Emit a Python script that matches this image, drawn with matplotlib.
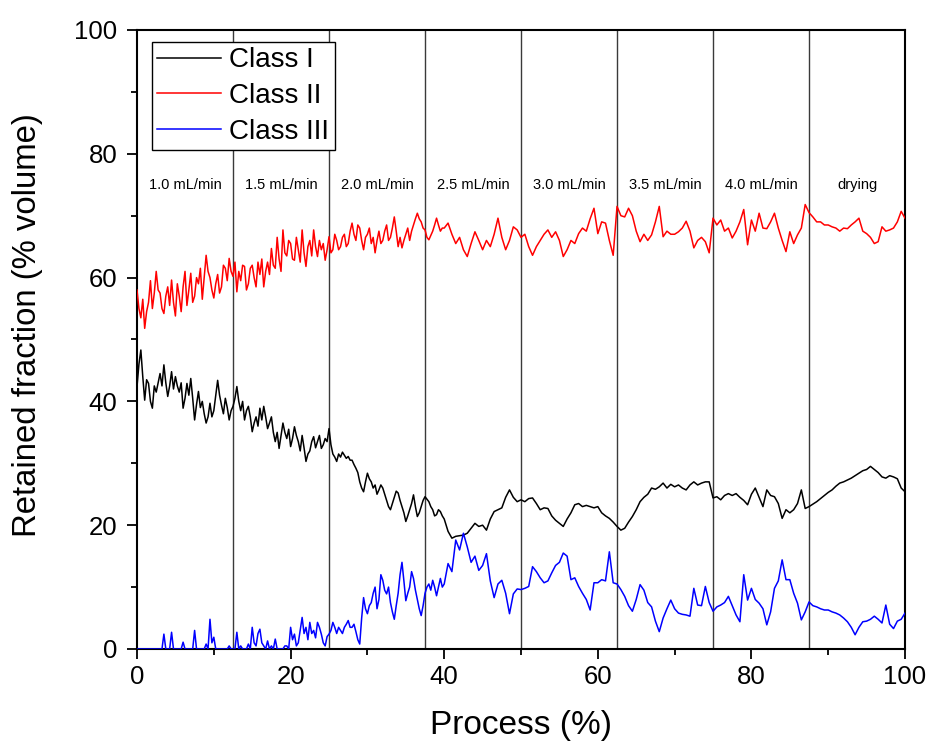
import numpy as np
import matplotlib
matplotlib.use("Agg")
import matplotlib.pyplot as plt
from matplotlib.ticker import MultipleLocator

plt.rcParams['font.family'] = ['Liberation Sans', 'DejaVu Sans']

# Process position (%): every 0.25 % up to 40 %, every 0.5 % after that
process = np.concatenate([np.arange(0, 40, 0.25), np.arange(40, 100.5, 0.5)])

class_1 = [
    # 0 - 39.75 %
    42.4, 46.0, 48.3, 44.0, 40.2, 43.5, 42.9, 40.0, 38.9, 42.5, 41.5, 43.0, 44.5, 42.5, 45.9, 43.0, 40.8, 42.5, 44.8, 42.0,
    44.0, 42.5, 41.5, 43.0, 38.9, 40.5, 42.9, 41.0, 43.7, 40.5, 37.0, 39.5, 41.6, 39.0, 40.0, 38.0, 36.5, 37.5, 39.7, 37.5,
    38.5, 41.0, 43.4, 41.0, 39.4, 38.0, 40.5, 39.0, 37.0, 38.5, 39.2, 40.5, 42.4, 40.0, 38.5, 40.0, 37.0, 38.5, 39.2, 37.5,
    35.1, 36.5, 37.5, 36.0, 38.9, 37.0, 39.2, 37.5, 35.6, 36.5, 37.5, 35.0, 33.5, 35.0, 32.4, 34.5, 36.5, 35.0, 34.0, 35.5,
    32.7, 34.0, 35.9, 34.5, 33.5, 32.0, 34.5, 32.5, 30.3, 31.5, 32.0, 33.5, 34.3, 32.5, 33.5, 34.5, 32.4, 33.0, 34.0, 33.5,
    35.6, 33.0, 31.5, 31.0, 30.3, 31.5, 31.0, 31.8, 31.3, 30.8, 31.1, 30.5, 30.5, 29.8, 29.2, 28.5, 27.0, 26.0, 25.4, 27.0,
    28.4, 27.5, 27.0, 26.0, 26.5, 25.0, 25.7, 26.5, 26.0, 25.0, 24.0, 23.0, 22.5, 23.5, 24.5, 25.5, 25.2, 24.0, 23.0, 22.0,
    20.6, 21.5, 22.5, 23.5, 24.9, 23.0, 21.4, 22.0, 23.0, 24.0, 24.6, 24.2, 23.8, 23.0, 22.5, 21.5, 21.7, 22.5, 22.2, 21.5,
    # 40 - 100 %
    21.0, 19.0, 17.9, 18.2, 18.3, 18.4, 18.7, 19.5, 20.3, 19.8,
    20.0, 19.2, 21.0, 22.2, 22.5, 22.8, 24.5, 25.7, 24.5, 23.8,
    24.1, 23.8, 24.3, 24.4, 23.5, 22.5, 22.8, 22.7, 21.5, 20.8,
    20.3, 19.8, 21.0, 22.0, 23.3, 23.5, 23.0, 23.2, 23.0, 22.8,
    23.0, 22.0, 21.5, 21.1, 20.5, 19.8, 19.2, 19.5, 20.5, 21.4,
    22.5, 23.8, 24.5, 25.0, 26.0, 25.8, 26.2, 26.8, 26.0, 26.6,
    26.2, 26.5, 26.0, 25.7, 26.5, 27.0, 26.5, 26.8, 27.0, 27.0,
    24.4, 24.6, 24.1, 24.8, 25.1, 24.8, 25.1, 24.5, 24.0, 23.3,
    25.0, 26.0, 24.5, 23.0, 25.7, 24.8, 24.6, 23.5, 21.1, 22.5,
    22.0, 22.5, 23.5, 25.7, 22.7, 23.0, 23.4, 23.8, 24.3, 24.8,
    25.3, 25.7, 26.3, 26.8, 27.0, 27.3, 27.6, 28.0, 28.4, 28.8,
    29.0, 29.5, 29.0, 28.5, 27.8, 27.6, 28.0, 27.8, 27.5, 26.0,
    25.4,
]

class_2 = [
    # 0 - 39.75 %
    58.0, 55.0, 53.5, 56.5, 51.8, 54.5, 56.0, 59.5, 55.0, 57.5, 61.0, 58.0, 57.5, 55.0, 54.2, 57.0, 58.5, 55.5, 59.6, 56.0,
    53.8, 59.0, 57.0, 54.5, 58.5, 61.0, 55.5, 58.0, 60.7, 56.0, 57.0, 60.0, 59.0, 61.5, 56.5, 60.0, 63.6, 61.0, 60.0, 58.0,
    56.7, 59.0, 60.5, 57.5, 58.5, 62.0, 61.5, 59.5, 63.1, 61.0, 60.2, 62.5, 57.7, 61.0, 59.5, 62.0, 61.8, 58.0, 59.0, 61.5,
    62.0, 60.0, 58.5, 62.5, 60.5, 63.0, 58.5, 61.0, 62.5, 60.5, 64.7, 62.0, 61.5, 66.5, 63.0, 61.0, 67.7, 64.0, 63.5, 66.0,
    65.5, 63.0, 62.8, 66.5, 64.5, 62.5, 67.7, 64.0, 61.8, 65.0, 66.0, 63.5, 67.7, 65.0, 63.4, 66.0, 64.5, 65.5, 62.8, 64.5,
    66.6, 64.0, 64.5, 67.0, 66.0, 64.5, 65.0, 66.5, 67.0, 65.0, 65.5, 67.5, 68.8, 67.0, 66.0, 68.5, 68.0, 66.0, 64.5, 66.5,
    67.0, 68.0, 65.5, 66.5, 64.0, 66.0, 67.5, 65.5, 66.0, 67.5, 68.5, 66.0, 66.5, 68.0, 69.8, 67.5, 65.0, 66.5, 64.8, 66.0,
    67.0, 68.0, 66.0, 67.5, 68.5, 69.5, 70.4, 69.5, 69.0, 68.0, 67.7, 66.5, 66.1, 66.8, 67.5, 68.5, 69.6, 68.5, 67.5, 68.0,
    # 40 - 100 %
    68.0, 68.8, 67.0, 65.5, 66.5, 64.5, 63.4, 65.5, 67.4, 66.0,
    64.5, 66.0, 65.0, 67.0, 69.6, 66.5, 64.5, 66.0, 68.2, 67.7,
    66.5, 67.0, 65.0, 63.6, 65.0, 66.0, 67.0, 67.7, 66.5, 67.4,
    66.0, 63.4, 64.5, 66.0, 65.5, 67.1, 68.0, 67.5, 69.5, 71.2,
    67.1, 69.0, 68.8, 66.0, 63.6, 71.5, 70.0, 69.8, 71.2, 70.0,
    67.5, 65.8, 67.0, 66.0, 66.9, 69.0, 71.5, 66.6, 67.5, 67.0,
    67.0, 67.4, 68.0, 69.1, 67.5, 64.8, 66.0, 66.5, 65.8, 64.0,
    69.6, 68.5, 69.3, 67.5, 68.0, 66.4, 67.5, 69.0, 71.0, 65.3,
    69.3, 67.5, 70.4, 68.0, 67.9, 69.0, 70.4, 68.0, 66.0, 64.2,
    67.4, 65.5, 66.9, 68.0, 71.8, 70.5, 69.8, 69.0, 69.0, 68.5,
    68.5, 68.2, 68.0, 67.5, 68.0, 67.9, 68.5, 69.0, 69.6, 67.5,
    67.1, 66.5, 65.5, 65.8, 68.2, 67.5, 67.7, 68.0, 69.0, 70.7,
    69.6,
]

class_3 = [
    # 0 - 39.75 %
    0, 0, 0, 0, 0, 0, 0, 0, 0, 0, 0, 0, 0, 0, 2.4, 0, 0, 0, 2.7, 0,
    0, 0, 0, 0, 1.1, 0, 0, 0, 0, 0, 3.0, 0, 0, 0, 0, 0, 0.8, 0, 4.8, 1.0,
    1.9, 0, 0, 0, 0, 0, 0, 0, 0.5, 0, 0, 0, 2.7, 0, 0.5, 0, 0, 0, 0.8, 0,
    3.5, 1.0, 0.5, 2.5, 3.2, 1.0, 0.5, 0, 1.3, 0, 0.5, 0, 1.6, 0, 0, 0, 0, 0.5, 0.5, 0,
    3.5, 1.5, 2.4, 0.5, 1.0, 3.0, 5.1, 2.5, 3.5, 1.5, 4.3, 2.5, 3.0, 1.8, 4.3, 3.5, 2.4, 1.0, 0.5, 2.0,
    2.4, 3.0, 4.3, 3.5, 2.5, 3.5, 3.0, 2.5, 3.5, 4.0, 4.6, 3.5, 3.5, 4.0, 2.8, 1.5, 0.8, 5.0, 8.3, 6.5,
    5.7, 7.0, 7.5, 9.0, 10.0, 6.5, 8.0, 12.0, 11.1, 9.5, 8.9, 10.0, 7.5, 6.0, 4.8, 7.0, 9.0, 12.0, 14.0, 11.0,
    7.8, 9.0, 10.0, 12.5, 11.4, 9.5, 8.0, 6.5, 5.4, 7.0, 9.0, 10.0, 10.5, 9.5, 11.1, 10.0, 8.6, 10.0, 11.4, 10.0,
    # 40 - 100 %
    10.5, 13.8, 12.5, 17.6, 16.0, 18.7, 16.5, 14.0, 15.0, 12.7,
    13.5, 15.4, 11.0, 8.3, 10.5, 11.1, 9.0, 5.7, 8.9, 9.7,
    9.6, 9.8, 10.1, 13.3, 12.5, 11.5, 10.7, 11.0, 12.3, 13.5,
    14.0, 15.5, 15.0, 11.2, 11.5, 10.1, 9.0, 8.0, 6.3, 10.7,
    10.7, 11.2, 11.0, 15.7, 10.7, 10.5, 9.6, 8.5, 7.0, 6.1,
    8.0, 10.4, 9.5, 7.5, 6.8, 4.5, 2.8, 5.0, 6.5, 7.9,
    6.5, 5.8, 5.6, 5.5, 5.3, 9.8, 7.1, 7.0, 10.1, 7.5,
    6.1, 6.8, 7.1, 7.5, 8.5, 7.0, 5.5, 4.4, 12.0, 7.9,
    9.8, 8.0, 7.4, 6.5, 3.9, 6.0, 9.8, 11.0, 14.4, 11.2,
    11.2, 9.0, 7.4, 4.7, 6.0, 7.6, 7.0, 6.8, 6.5, 6.3,
    6.3, 6.0, 5.8, 5.5, 5.0, 4.4, 3.5, 2.3, 3.5, 4.4,
    4.5, 4.8, 5.3, 4.8, 4.2, 7.1, 4.0, 3.3, 4.5, 4.8,
    5.8,
]

# Flow-rate stage boundaries and their labels
stage_edges = [0, 12.5, 25, 37.5, 50, 62.5, 75, 87.5, 100]
stage_labels = ["1.0 mL/min", "1.5 mL/min", "2.0 mL/min", "2.5 mL/min",
                "3.0 mL/min", "3.5 mL/min", "4.0 mL/min", "drying"]

fig = plt.figure(figsize=(9.27, 7.44), dpi=100)
ax = fig.add_axes([0.1478, 0.1277, 0.8285, 0.8320])

for edge in stage_edges[1:-1]:
    ax.axvline(edge, color="#3a3a3a", lw=1.0, zorder=1)

for lo, hi, lab in zip(stage_edges[:-1], stage_edges[1:], stage_labels):
    ax.text((lo + hi) / 2, 75, lab, ha="center", va="center", fontsize=10.5)

ax.plot(process, class_1, color="black", lw=1.1, label="Class I", zorder=3)
ax.plot(process, class_2, color="#ff0000", lw=1.1, label="Class II", zorder=3)
ax.plot(process, class_3, color="#0000ff", lw=1.1, label="Class III", zorder=3)

ax.set_xlim(0, 100)
ax.set_ylim(0, 100)
ax.xaxis.set_major_locator(MultipleLocator(20))
ax.xaxis.set_minor_locator(MultipleLocator(10))
ax.yaxis.set_major_locator(MultipleLocator(20))
ax.yaxis.set_minor_locator(MultipleLocator(10))
ax.tick_params(which="major", direction="out", length=7, width=1.3,
               labelsize=18.5)
ax.tick_params(which="minor", direction="out", length=4, width=1.3)
ax.tick_params(axis="y", which="major", pad=7)
ax.tick_params(axis="x", which="major", pad=4.5)
for sp in ax.spines.values():
    sp.set_linewidth(1.5)

ax.set_xlabel("Process (%)", fontsize=24)
ax.set_ylabel("Retained fraction (% volume)", fontsize=23.7)
ax.xaxis.set_label_coords(0.5, -0.098)
ax.yaxis.set_label_coords(-0.123, 0.523)

leg = ax.legend(loc="upper left", bbox_to_anchor=(0.019, 0.981),
                fontsize=20, handlelength=2.3, handletextpad=0.3,
                labelspacing=0.35, borderpad=0.2, fancybox=False,
                framealpha=1, edgecolor="black", borderaxespad=0)
leg.get_frame().set_linewidth(1.0)

fig.savefig("out.png", dpi=100)
